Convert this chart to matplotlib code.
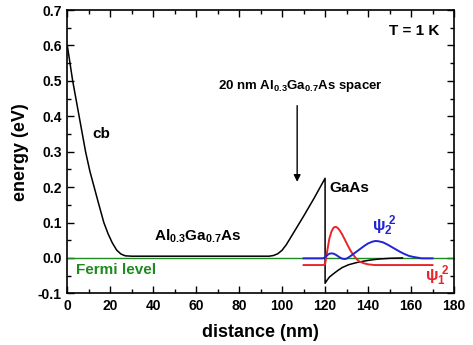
import matplotlib
matplotlib.use("Agg")
import matplotlib.pyplot as plt
from matplotlib.ticker import MultipleLocator

plt.rcParams['font.family'] = ['Liberation Sans', 'DejaVu Sans']
plt.rcParams['font.weight'] = 'bold'
plt.rcParams['mathtext.fontset'] = 'custom'
plt.rcParams['mathtext.rm'] = 'Liberation Sans:bold'
plt.rcParams['mathtext.bf'] = 'Liberation Sans:bold'
plt.rcParams['mathtext.it'] = 'Liberation Sans:bold'
plt.rcParams['mathtext.default'] = 'rm'

# conduction band profile (nm, eV)
cb_x = [0, 1, 2.5, 4, 5.5, 7, 8.5, 10.5, 12.5, 14.5, 17, 19, 21, 23, 25, 27, 30,
        60, 94, 96, 98, 100, 102, 104, 106, 110, 115, 120,
        120, 121, 122, 123.6, 126, 128, 131, 134.7, 138, 141, 145, 150, 156]
cb_y = [0.60, 0.56, 0.50, 0.45, 0.40, 0.35, 0.30, 0.245, 0.20, 0.155, 0.10, 0.068, 0.042, 0.022, 0.011, 0.006, 0.005,
        0.005, 0.005, 0.007, 0.012, 0.022, 0.038, 0.058, 0.078, 0.118, 0.170, 0.225,
        -0.0715, -0.062, -0.054, -0.046, -0.035, -0.027, -0.019, -0.013, -0.009, -0.006, -0.003, -0.001, 0.0]

# |psi1|^2 (offset baseline)
psi1_x = [110, 119, 120, 121, 122, 123, 124, 125, 126, 127, 128, 129, 130, 131, 132, 133,
          134, 135, 136, 138, 140, 143, 146, 170]
psi1_y = [-0.020, -0.020, -0.018, 0.020, 0.055, 0.075, 0.086, 0.088, 0.084, 0.076, 0.066, 0.054,
          0.042, 0.030, 0.019, 0.010, 0.002, -0.005, -0.010, -0.015, -0.018, -0.020, -0.020, -0.020]

# |psi2|^2
psi2_x = [110, 119, 120, 121, 122, 123, 124, 125, 126, 127, 128, 129, 130, 131, 132, 134, 136,
          138, 140, 142, 143.5, 145, 147, 149, 151, 153, 155, 157, 159, 161, 163, 165, 170]
psi2_y = [-0.001, -0.001, 0.002, 0.008, 0.012, 0.013, 0.012, 0.009, 0.005, 0.001, -0.002, -0.003,
          -0.002, 0.002, 0.006, 0.015, 0.024, 0.033, 0.041, 0.046, 0.048, 0.047, 0.044, 0.038,
          0.031, 0.024, 0.017, 0.011, 0.006, 0.003, 0.001, -0.001, -0.001]

fermi_x = [0, 180]
fermi_y = [0.0, 0.0]

fig = plt.figure(figsize=(4.73, 3.45), dpi=100)
ax = fig.add_axes([0.1423, 0.1496, 0.8175, 0.8214])

ax.plot(fermi_x, fermi_y, color='#1f8a1f', lw=1.0, zorder=2)
ax.plot(cb_x, cb_y, color='black', lw=1.1, zorder=3)
ax.plot(psi1_x, psi1_y, color='#e8262a', lw=1.4, zorder=4)
ax.plot(psi2_x, psi2_y, color='#2323d6', lw=1.4, zorder=4)

ax.set_xlim(0, 180)
ax.set_ylim(-0.1, 0.7)
ax.xaxis.set_major_locator(MultipleLocator(20))
ax.xaxis.set_minor_locator(MultipleLocator(10))
ax.yaxis.set_major_locator(MultipleLocator(0.1))
ax.yaxis.set_minor_locator(MultipleLocator(0.05))
ax.yaxis.set_major_formatter(matplotlib.ticker.FormatStrFormatter('%.1f'))
ax.tick_params(which='both', direction='in', top=True, right=True, labelsize=10, width=1.0)
ax.tick_params(which='major', length=5, pad=4)
ax.tick_params(which='minor', length=3)
for s in ax.spines.values():
    s.set_linewidth(1.2)
for lab in ax.get_xticklabels() + ax.get_yticklabels():
    lab.set_fontweight('bold')

ax.set_xlabel('distance (nm)', fontsize=13, fontweight='bold', labelpad=8)
ax.set_ylabel('energy (eV)', fontsize=13, fontweight='bold', labelpad=6)

ax.text(11.5, 0.35, 'cb', fontsize=11, fontweight='bold', va='center', ha='left')
ax.text(173, 0.64, 'T = 1 K', fontsize=11, fontweight='bold', va='center', ha='right')
ax.text(70, 0.486, r'20 nm Al$_{0.3}$Ga$_{0.7}$As spacer', fontsize=9.5, fontweight='bold',
        va='center', ha='left')
ax.annotate('', xy=(107, 0.215), xytext=(107, 0.43),
            arrowprops=dict(arrowstyle='-|>', color='black', lw=1.0, mutation_scale=10,
                            shrinkA=0, shrinkB=0))
ax.text(122, 0.198, 'GaAs', fontsize=11, fontweight='bold', va='center', ha='left')
ax.text(40.3, 0.06, r'Al$_{0.3}$Ga$_{0.7}$As', fontsize=11, fontweight='bold', va='center', ha='left')
ax.text(4, -0.034, 'Fermi level', fontsize=11, fontweight='bold', va='center', ha='left',
        color='#1f8a1f')
ax.text(142, 0.09, r'$\psi_2^{\ 2}$', fontsize=12, va='center', ha='left', color='#2323d6')
ax.text(166.5, -0.05, r'$\psi_1^{\ 2}$', fontsize=12, va='center', ha='left', color='#e8262a')

fig.savefig('out.png', dpi=100)
